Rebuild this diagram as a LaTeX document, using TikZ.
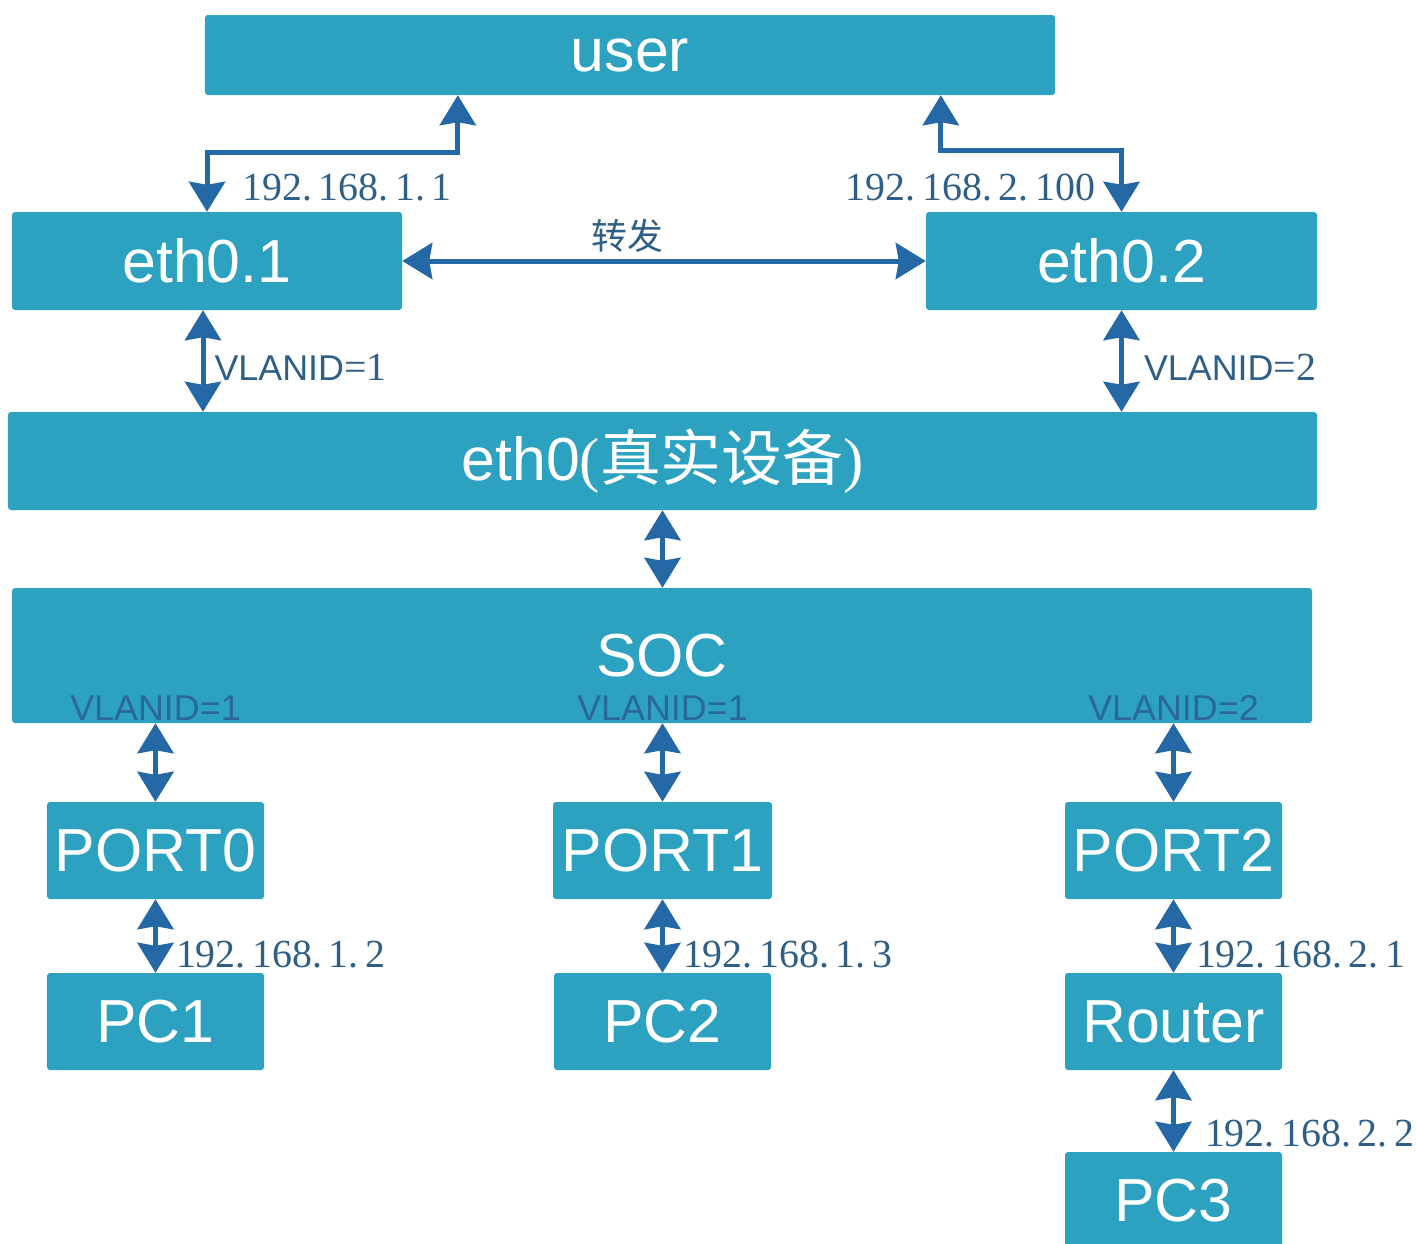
\documentclass[tikz,border=0pt]{standalone}
\usepackage{fontspec}
\setmainfont{Liberation Sans}
\newfontfamily\serifip{Liberation Serif}
\newfontfamily\cjkfont{Noto Sans CJK SC}
\usetikzlibrary{arrows.meta}
\definecolor{boxteal}{HTML}{2CA2C0}
\definecolor{linkblue}{HTML}{2568A6}
\definecolor{lblblue}{HTML}{2F5F86}
\definecolor{soclbl}{HTML}{2B679B}

\begin{document}
\begin{tikzpicture}[x=1bp,y=-1bp,
  box/.style={fill=boxteal, rounded corners=3bp, inner sep=0pt, text=white,
    font=\fontsize{61}{70}\selectfont},
  link/.style={line width=5bp, draw=linkblue,
    {Stealth[length=30bp,width=36bp,inset=3bp]}-{Stealth[length=30bp,width=36bp,inset=3bp]}},
  ip/.style={text=lblblue, font=\serifip\fontsize{40}{44}\selectfont, inner sep=0pt},
  vlan/.style={text=lblblue, font=\fontsize{36}{40}\selectfont, inner sep=0pt},
  vlanin/.style={text=soclbl, font=\fontsize{36}{40}\selectfont, inner sep=0pt},
  fwd/.style={text=lblblue, font=\cjkfont\fontsize{36}{40}\selectfont, inner sep=0pt},
]
\useasboundingbox (0,0) rectangle (1416,1243);
\clip (0,0) rectangle (1416,1243);

% boxes
\node[box, minimum width=850bp,  minimum height=80bp]  (user)   at (630,55)      {user};
\node[box, minimum width=390bp,  minimum height=98bp]  (eth01)  at (207,261)     {eth0.1};
\node[box, minimum width=391bp,  minimum height=98bp]  (eth02)  at (1121.5,261)  {eth0.2};
\node[box, minimum width=1309bp, minimum height=98bp]  (eth0)   at (662.5,461)
  {eth0{\serifip(}{\cjkfont 真实设备}{\serifip)}};
\node[box, minimum width=1300bp, minimum height=135bp] (soc)    at (662,655.5)   {SOC};
\node[box, minimum width=217bp,  minimum height=97bp]  (port0)  at (155.5,850.5) {PORT0};
\node[box, minimum width=219bp,  minimum height=97bp]  (port1)  at (662.5,850.5) {PORT1};
\node[box, minimum width=217bp,  minimum height=97bp]  (port2)  at (1173.5,850.5){PORT2};
\node[box, minimum width=217bp,  minimum height=97bp]  (pc1)    at (155.5,1021.5){PC1};
\node[box, minimum width=217bp,  minimum height=97bp]  (pc2)    at (662.5,1021.5){PC2};
\node[box, minimum width=217bp,  minimum height=97bp]  (router) at (1173.5,1021.5){Router};
\node[box, minimum width=217bp,  minimum height=97bp]  (pc3)    at (1173.5,1200.5){PC3};

% VLAN tags printed inside the SOC box
\node[vlanin, anchor=base] (tag0) at ([yshift=3bp]soc.south -| port0.north) {VLANID=1};
\node[vlanin, anchor=base] (tag1) at ([yshift=3bp]soc.south -| port1.north) {VLANID=1};
\node[vlanin, anchor=base] (tag2) at ([yshift=3bp]soc.south -| port2.north) {VLANID=2};

% user <-> sub-interfaces
\draw[link] ([xshift=253bp]user.south west) -- ++(0,57) -| (eth01.north)
  node[ip, anchor=west, pos=.8, xshift=33bp] {192.\,168.\,1.\,1};
\draw[link] ([xshift=736bp]user.south west) -- ++(0,55) -| (eth02.north)
  node[ip, anchor=east, pos=.8, xshift=-24bp] {192.\,168.\,2.\,100};

% forwarding between sub-interfaces
\draw[link] (eth01.east) -- (eth02.west)
  node[fwd, anchor=south, pos=.43, yshift=6bp] {转发};

% sub-interfaces <-> eth0
\draw[link] ([xshift=-4bp]eth01.south) -- ([xshift=-4bp]eth01.south |- eth0.north)
  node[vlan, anchor=west, midway, xshift=9bp, yshift=-6bp] {VLANID{\serifip\fontsize{40}{44}\selectfont =1}};
\draw[link] (eth02.south) -- (eth02.south |- eth0.north)
  node[vlan, anchor=west, midway, xshift=20bp, yshift=-6bp] {VLANID{\serifip\fontsize{40}{44}\selectfont =2}};

% eth0 <-> SOC
\draw[link] (eth0.south) -- (eth0.south |- soc.north);

% SOC <-> ports
\draw[link] (port0.north |- soc.south) -- (port0.north);
\draw[link] (port1.north |- soc.south) -- (port1.north);
\draw[link] (port2.north |- soc.south) -- (port2.north);

% ports <-> hosts
\draw[link] (port0.south) -- (pc1.north)
  node[ip, anchor=west, pos=.75, xshift=18bp] {192.\,168.\,1.\,2};
\draw[link] (port1.south) -- (pc2.north)
  node[ip, anchor=west, pos=.75, xshift=18bp] {192.\,168.\,1.\,3};
\draw[link] (port2.south) -- (router.north)
  node[ip, anchor=west, pos=.75, xshift=20bp] {192.\,168.\,2.\,1};
\draw[link] (router.south) -- (pc3.north)
  node[ip, anchor=west, pos=.77, xshift=29bp] {192.\,168.\,2.\,2};
\end{tikzpicture}
\end{document}
